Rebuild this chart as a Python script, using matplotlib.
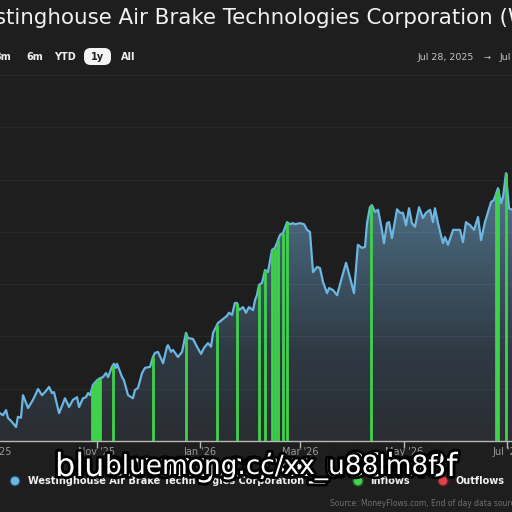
import numpy as np
import matplotlib.pyplot as plt
import matplotlib.patheffects as pe
from matplotlib.colors import LinearSegmentedColormap
from matplotlib.patches import PathPatch, FancyBboxPatch

# days since Jul 28, 2025 and closing price
days = [36.0, 38.7, 40.5, 42.3, 43.4, 45.8, 48.2, 49.3, 51.1, 52.3, 55.3, 58.2, 61.2, 63.5,
        65.3, 67.7, 69.4, 70.6, 73.6, 77.1, 79.5, 81.8, 84.2, 85.4, 87.7, 89.5, 90.7, 91.9,
        93.6, 96.0, 97.8, 99.5, 101.3, 102.5, 104.8, 106.0, 107.2, 107.8, 110.8, 111.9,
        114.3, 117.2, 118.4, 120.2, 122.6, 124.3, 127.3, 129.0, 130.2, 132.0, 135.0, 137.3,
        137.9, 139.7, 140.8, 143.8, 146.2, 148.5, 149.7, 152.7, 155.0, 157.4, 159.2, 161.5,
        163.3, 164.5, 167.4, 170.4, 172.7, 173.9, 175.7, 177.4, 178.6, 179.8, 182.2, 183.9,
        185.7, 188.1, 189.3, 190.4, 191.6, 193.4, 195.2, 196.9, 199.3, 201.1, 204.0, 205.8,
        208.2, 209.9, 211.7, 212.9, 215.8, 218.2, 220.0, 221.7, 223.5, 225.9, 227.6, 229.4,
        231.8, 233.0, 235.3, 237.7, 240.6, 243.0, 245.3, 247.7, 250.0, 252.4, 254.2, 255.4,
        257.1, 258.3, 260.1, 261.9, 264.2, 265.4, 267.2, 268.4, 270.1, 273.1, 274.9, 276.6,
        278.4, 280.2, 281.9, 283.7, 286.1, 288.4, 290.2, 292.6, 294.3, 295.5, 297.3, 300.2,
        301.4, 303.2, 306.2, 308.5, 310.3, 312.0, 313.8, 316.2, 318.6, 320.9, 322.7, 325.0,
        328.6, 330.3, 332.7, 334.5, 335.7, 337.4, 339.2, 341.0, 343.0]
price = [165.8, 165.4, 165.0, 166.0, 164.5, 163.7, 162.7, 164.7, 164.5, 168.9, 166.4, 168.0,
         170.1, 168.9, 169.5, 170.5, 169.3, 169.5, 165.4, 168.3, 166.6, 168.0, 168.5, 166.6,
         168.3, 168.5, 169.3, 168.9, 170.9, 171.8, 172.2, 172.4, 173.2, 172.4, 174.4, 175.0,
         174.2, 175.0, 172.4, 171.8, 168.9, 168.3, 169.9, 170.3, 173.2, 174.2, 174.4, 176.3,
         177.1, 177.3, 175.1, 178.3, 178.6, 177.3, 177.7, 176.3, 177.3, 181.0, 180.0, 179.8,
         178.3, 176.9, 178.1, 179.0, 178.3, 181.0, 182.9, 183.7, 184.3, 184.9, 184.5, 186.8,
         186.8, 185.4, 186.0, 184.9, 186.0, 185.4, 187.4, 188.3, 190.3, 190.7, 193.2, 192.8,
         197.1, 197.5, 200.0, 200.4, 202.5, 202.1, 202.3, 202.1, 202.3, 202.1, 201.0, 200.6,
         192.8, 193.8, 193.6, 190.9, 188.7, 189.7, 189.3, 188.3, 191.8, 194.6, 191.8, 188.7,
         198.1, 197.5, 197.7, 202.3, 205.4, 205.8, 204.5, 204.9, 201.0, 198.4, 202.3, 202.5,
         199.4, 205.0, 204.3, 204.3, 201.9, 205.2, 202.3, 201.6, 205.4, 203.3, 204.3, 204.9,
         202.5, 205.2, 202.3, 198.4, 199.6, 198.1, 201.0, 201.0, 201.0, 198.6, 202.5, 201.9,
         201.0, 203.5, 199.0, 202.5, 206.4, 206.8, 209.1, 206.2, 207.4, 212.0, 205.2, 204.9,
         205.0]

# money inflow days and the price at those days
inflow_days = [93.1, 94.3, 95.4, 96.6, 97.8, 105.4, 129.0, 148.5, 166.8, 178.6, 191.6, 195.2,
               199.3, 201.1, 202.8, 205.8, 208.2, 257.7, 331.5, 333.0, 337.4]
inflow_top = [170.5, 171.3, 171.7, 172.0, 172.2, 174.6, 176.3, 181.0, 182.5, 186.8, 190.3,
              193.2, 197.1, 197.5, 199.0, 200.4, 202.5, 205.6, 208.3, 209.0, 212.0]

tick_days = [35, 96, 157, 216, 277, 338]
tick_labels = ["Sep '25", "Nov '25", "Jan '26", "Mar '26", "May '26", "Jul '26"]

ranges = ["3m", "6m", "YTD", "1y", "All"]
range_x = [3, 35, 65, 97, 128]

bg = '#1e1e1e'
W = 512.0
fig = plt.figure(figsize=(5.12, 5.12), dpi=100, facecolor=bg)
# chart is wider than the picture, so the axes run past both edges
ax = fig.add_axes([-65.6 / W, (W - 441) / W, 618.3 / W, 366 / W])
ax.set_facecolor(bg)
ymin, ymax = 160, 231.07
ax.set_xlim(0, 365)
ax.set_ylim(ymin, ymax)

# gradient fill under the price
cmap = LinearSegmentedColormap.from_list('fill', ['#2a2d32', '#2f3a44', '#3f5768', '#55778f'])
grad = np.linspace(0, 1, 256).reshape(-1, 1)
im = ax.imshow(grad, extent=[0, 365, ymin, 212], origin='lower', aspect='auto',
               cmap=cmap, zorder=1)
poly = ax.fill_between(days, price, ymin, color='none', lw=0)
patch = PathPatch(poly.get_paths()[0], transform=ax.transData, fc='none', ec='none')
ax.add_patch(patch)
im.set_clip_path(patch)

for gy in np.linspace(ymin, ymax, 8)[1:]:
    ax.axhline(gy, color='white', alpha=0.05, lw=0.8, zorder=2)

ax.plot(days, price, color='#6cb6e2', lw=1.6, zorder=4)
ax.vlines(inflow_days, ymin, inflow_top, color='#3fd34c', lw=2.0, zorder=5)

for s in ['top', 'left', 'right']:
    ax.spines[s].set_visible(False)
ax.spines['bottom'].set_color('#b8b8b8')
ax.spines['bottom'].set_linewidth(1.0)
ax.set_yticks([])
ax.set_xticks(tick_days)
ax.set_xticklabels(tick_labels)
ax.tick_params(axis='x', colors='#b8b8b8', labelcolor='#9a9a9a', length=5, width=1,
               labelsize=7, pad=-1)

# title and controls
fig.text(264 / W, 1 - 18 / W, "Westinghouse Air Brake Technologies Corporation (WAB)",
         ha='center', va='center', color='#f2f2f2', fontsize=15.4)
for lab, x in zip(ranges, range_x):
    col = '#1e1e1e' if lab == "1y" else '#f0f0f0'
    if lab == "1y":
        fig.patches.append(FancyBboxPatch((84 / W, 1 - 65 / W), 27 / W, 17 / W,
                                          boxstyle='round,pad=0,rounding_size=0.013',
                                          transform=fig.transFigure, fc='#f4f4f4', ec='none'))
    fig.text(x / W, 1 - 57 / W, lab, ha='center', va='center', color=col,
             fontsize=7, fontweight='bold')
fig.text(446 / W, 1 - 57 / W, "Jul 28, 2025", ha='center', va='center', color='#c4c4c4',
         fontsize=6.8)
fig.text(487 / W, 1 - 57 / W, "\u2192", ha='center', va='center', color='#c4c4c4', fontsize=6)
fig.text(500 / W, 1 - 57 / W, "Jul 28, 2026", ha='left', va='center', color='#c4c4c4',
         fontsize=6.8)

# legend row
fig.patches.append(plt.Circle((15 / W, 1 - 481 / W), 5 / W, transform=fig.transFigure,
                              fc='#6cb6e2', ec='#1a3d55', lw=1))
fig.text(28 / W, 1 - 481 / W, "Westinghouse Air Brake Technologies Corporation",
         ha='left', va='center', color='#f0f0f0', fontsize=7, fontweight='bold')
fig.patches.append(plt.Circle((358 / W, 1 - 481 / W), 5 / W, transform=fig.transFigure,
                              fc='#3fd34c', ec='#1e5a24', lw=1))
fig.text(370 / W, 1 - 481 / W, "Inflows", ha='left', va='center', color='#f0f0f0',
         fontsize=7, fontweight='bold')
fig.patches.append(plt.Circle((443 / W, 1 - 481 / W), 5 / W, transform=fig.transFigure,
                              fc='#e0404a', ec='#5a1e22', lw=1))
fig.text(455 / W, 1 - 481 / W, "Outflows", ha='left', va='center', color='#f0f0f0',
         fontsize=7, fontweight='bold')
fig.text(330 / W, 1 - 504 / W, "Source: MoneyFlows.com, End of day data source: Nasdaq",
         ha='left', va='center', color='#707070', fontsize=5.5)

# watermark
stroke = [pe.withStroke(linewidth=4, foreground='black')]
fig.text(55 / W, 1 - 468 / W, "bluemong.cc/xx_u88lm8f", ha='left', va='center',
         color='white', fontsize=23, path_effects=stroke)
fig.text(105 / W, 1 - 467 / W, "bluemong.cc/xx_u88lm8f", ha='left', va='center',
         color='white', fontsize=19, path_effects=stroke)

fig.savefig('out.png', dpi=100, facecolor=bg)
